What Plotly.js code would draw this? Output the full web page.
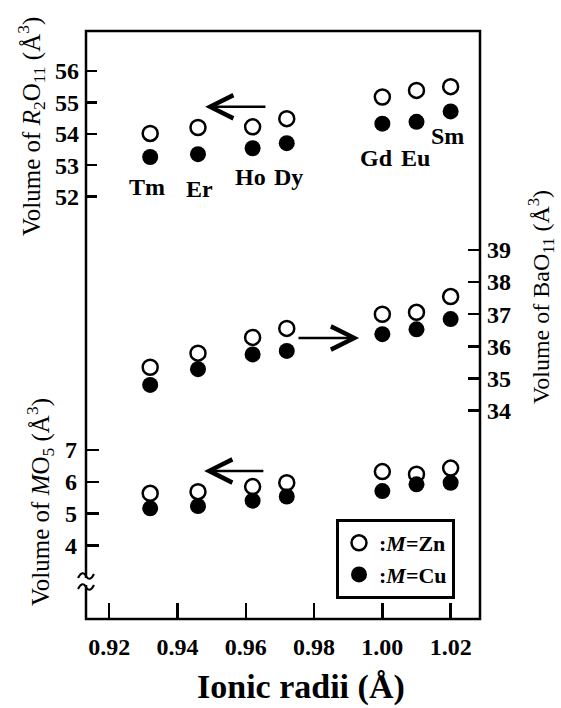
<!DOCTYPE html>
<html>
<head>
<meta charset="utf-8">
<script src="https://cdn.plot.ly/plotly-3.0.1.min.js"></script>
<style>html,body{margin:0;padding:0;background:#fff;}#chart{width:561px;height:708px;}</style>
</head>
<body>
<div id="chart"></div>
<script>
// ---- data ----
const elements   = ['Tm', 'Er', 'Ho', 'Dy', 'Gd', 'Eu', 'Sm'];
const ionicRadii = [0.932, 0.946, 0.962, 0.972, 1.000, 1.010, 1.020];
const volR2O11_Zn = [54.01, 54.20, 54.22, 54.48, 55.17, 55.38, 55.50];
const volR2O11_Cu = [53.26, 53.35, 53.54, 53.70, 54.32, 54.38, 54.71];
const volBaO11_Zn = [35.35, 35.79, 36.28, 36.56, 37.00, 37.06, 37.55];
const volBaO11_Cu = [34.80, 35.29, 35.75, 35.86, 36.38, 36.53, 36.85];
const volMO5_Zn   = [5.64, 5.69, 5.85, 5.97, 6.32, 6.24, 6.43];
const volMO5_Cu   = [5.17, 5.24, 5.41, 5.54, 5.71, 5.92, 5.97];
const xTickVals  = [0.92, 0.94, 0.96, 0.98, 1.00, 1.02];
const xTickText  = ['0.92', '0.94', '0.96', '0.98', '1.00', '1.02'];
const r2o11Ticks = [52, 53, 54, 55, 56];
const bao11Ticks = [34, 35, 36, 37, 38, 39];
const mo5Ticks   = [4, 5, 6, 7];

// ---- styling / layout ----
const SERIF = 'Liberation Serif, Times New Roman, serif';
const W = 561, H = 708;
const M = {l: 86, r: 81, t: 31, b: 89};
const PW = W - M.l - M.r, PH = H - M.t - M.b;
const px = v => (v - M.l) / PW;          // pixel x -> paper
const py = v => (H - M.b - v) / PH;      // pixel y -> paper

const openMarker = {symbol: 'circle-open', size: 15, color: '#000', line: {width: 2.5, color: '#000'}};
const fillMarker = {symbol: 'circle', size: 16, color: '#000', line: {width: 0}};

const traces = [
  {x: ionicRadii, y: volR2O11_Zn, yaxis: 'y',  mode: 'markers', marker: openMarker, name: ':<i>M</i>=Zn', legendgroup: 'zn', showlegend: true},
  {x: ionicRadii, y: volR2O11_Cu, yaxis: 'y',  mode: 'markers', marker: fillMarker, name: ':<i>M</i>=Cu', legendgroup: 'cu', showlegend: true},
  {x: ionicRadii, y: volBaO11_Zn, yaxis: 'y2', mode: 'markers', marker: openMarker, name: ':<i>M</i>=Zn', legendgroup: 'zn', showlegend: false},
  {x: ionicRadii, y: volBaO11_Cu, yaxis: 'y2', mode: 'markers', marker: fillMarker, name: ':<i>M</i>=Cu', legendgroup: 'cu', showlegend: false},
  {x: ionicRadii, y: volMO5_Zn,   yaxis: 'y3', mode: 'markers', marker: openMarker, name: ':<i>M</i>=Zn', legendgroup: 'zn', showlegend: false},
  {x: ionicRadii, y: volMO5_Cu,   yaxis: 'y3', mode: 'markers', marker: fillMarker, name: ':<i>M</i>=Cu', legendgroup: 'cu', showlegend: false}
];

const tickFont = {family: SERIF, size: 24, color: '#000', weight: 'bold'};
const yCommon = {showgrid: false, zeroline: false, showline: false, ticks: 'inside', tickwidth: 2.5, tickcolor: '#000', tickfont: tickFont, tickmode: 'array', fixedrange: true};

// element labels (positions in data coordinates of the R2O11 axis)
const labelPos = [
  [0.9311, 52.32], [0.9463, 52.25], [0.9615, 52.63], [0.9724, 52.63],
  [0.9984, 53.24], [1.0098, 53.24], [1.0192, 53.94]
];
const annotations = elements.map((el, i) => ({
  x: labelPos[i][0], y: labelPos[i][1], xref: 'x', yref: 'y', text: el, showarrow: false,
  xanchor: 'center', yanchor: 'middle', font: {family: SERIF, size: 24, color: '#000', weight: 'bold'}
}));

// arrows
const arrowStyle = {text: '', showarrow: true, arrowhead: 5, arrowsize: 1.9, arrowwidth: 2.4, arrowcolor: '#000', standoff: 0, startstandoff: 0};
annotations.push(Object.assign({xref: 'x', yref: 'y',  axref: 'x', ayref: 'y',  x: 0.9481, y: 54.86, ax: 0.9662, ay: 54.86}, arrowStyle));
annotations.push(Object.assign({xref: 'x', yref: 'y2', axref: 'x', ayref: 'y2', x: 0.9932, y: 36.26, ax: 0.9750, ay: 36.26}, arrowStyle));
annotations.push(Object.assign({xref: 'x', yref: 'y3', axref: 'x', ayref: 'y3', x: 0.9478, y: 6.34, ax: 0.9656, ay: 6.34}, arrowStyle));

// axis titles
const titleFont = {family: SERIF, size: 25, color: '#000'};
annotations.push({xref: 'paper', yref: 'paper', x: px(31), y: py(127), textangle: -90, showarrow: false,
  text: 'Volume of <i>R</i><sub>2</sub>O<sub>11</sub> (Å<sup>3</sup>)', font: titleFont, xanchor: 'center', yanchor: 'middle'});
annotations.push({xref: 'paper', yref: 'paper', x: px(40), y: py(502), textangle: -90, showarrow: false,
  text: 'Volume of <i>M</i>O<sub>5</sub> (Å<sup>3</sup>)', font: titleFont, xanchor: 'center', yanchor: 'middle'});
annotations.push({xref: 'paper', yref: 'paper', x: px(541), y: py(297), textangle: -90, showarrow: false,
  text: 'Volume of BaO<sub>11</sub> (Å<sup>3</sup>)', font: {family: SERIF, size: 24, color: '#000'}, xanchor: 'center', yanchor: 'middle'});
annotations.push({xref: 'paper', yref: 'paper', x: px(301), y: py(687), showarrow: false,
  text: 'Ionic radii (Å)', font: {family: SERIF, size: 34, color: '#000', weight: 'bold'}, xanchor: 'center', yanchor: 'middle'});

// frame and axis-break mark
const tilde = (cy) => {
  const p = (x, y) => px(x).toFixed(5) + ',' + py(y).toFixed(5);
  return 'M' + p(78, cy + 2) + ' C' + p(81, cy - 4) + ' ' + p(84, cy - 4) + ' ' + p(86, cy) +
         ' S' + p(91, cy + 4) + ' ' + p(94, cy - 2);
};
const shapes = [
  {type: 'rect', xref: 'paper', yref: 'paper', x0: 0, x1: 1, y0: 0, y1: 1, line: {color: '#000', width: 2.5}},
  {type: 'rect', xref: 'paper', yref: 'paper', x0: px(83), x1: px(89), y0: py(585), y1: py(578), fillcolor: '#fff', line: {width: 0}},
  {type: 'path', xref: 'paper', yref: 'paper', path: tilde(576), line: {color: '#000', width: 2}},
  {type: 'path', xref: 'paper', yref: 'paper', path: tilde(587), line: {color: '#000', width: 2}}
];

const layout = {
  width: W, height: H, margin: M,
  paper_bgcolor: '#fff', plot_bgcolor: '#fff',
  font: {family: SERIF, color: '#000'},
  showlegend: true,
  legend: {x: px(336), y: py(519), xanchor: 'left', yanchor: 'top', bgcolor: '#fff', bordercolor: '#000', borderwidth: 3,
           font: {family: SERIF, size: 22, color: '#000', weight: 'bold'}, itemwidth: 30, tracegroupgap: 0},
  xaxis: {range: [0.9132, 1.0286], showgrid: false, zeroline: false, showline: false, ticks: 'inside', ticklen: 16, tickwidth: 2.5,
          tickcolor: '#000', tickmode: 'array', tickvals: xTickVals, ticktext: xTickText, tickfont: tickFont, ticklabelstandoff: 11, fixedrange: true},
  yaxis:  Object.assign({}, yCommon, {range: [38.56, 57.27], tickvals: r2o11Ticks, ticklen: 11, side: 'left', ticklabelstandoff: 6}),
  yaxis2: Object.assign({}, yCommon, {range: [27.52, 45.81], tickvals: bao11Ticks, ticklen: 12, side: 'right', overlaying: 'y', anchor: 'x', ticklabelstandoff: 6}),
  yaxis3: Object.assign({}, yCommon, {range: [1.70, 20.13], tickvals: mo5Ticks, ticklen: 13, side: 'left', overlaying: 'y', anchor: 'x', ticklabelstandoff: 8}),
  annotations: annotations,
  shapes: shapes
};

Plotly.newPlot('chart', traces, layout, {displayModeBar: false, staticPlot: true});
</script>
</body>
</html>
